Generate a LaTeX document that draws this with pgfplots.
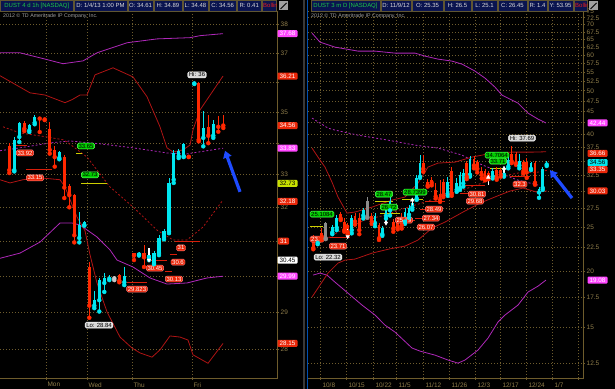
\documentclass[border=0pt]{standalone}
\usepackage{fontspec}
\setmainfont{Liberation Sans}
\usepackage{pgfplots}
\usepackage{pgfplotstable}
\pgfplotsset{compat=1.18}
\usetikzlibrary{arrows.meta}

\definecolor{cyanc}{RGB}{0,230,240}
\definecolor{redc}{RGB}{255,40,0}
\definecolor{grayc}{RGB}{140,140,140}
\definecolor{dojic}{RGB}{200,200,200}
\definecolor{bbred}{RGB}{175,20,20}
\definecolor{bbpur}{RGB}{175,40,185}
\definecolor{gridc}{RGB}{110,92,45}
\definecolor{tickc}{RGB}{145,127,75}
\definecolor{axc}{RGB}{110,92,44}
\definecolor{boxred}{RGB}{235,40,10}
\definecolor{boxgreen}{RGB}{0,205,0}
\definecolor{boxgray}{RGB}{215,215,215}
\definecolor{boxmag}{RGB}{255,70,255}
\definecolor{boxyel}{RGB}{200,225,0}
\definecolor{boxcyan}{RGB}{0,230,235}
\definecolor{lvlyel}{RGB}{205,205,0}
\definecolor{lvlred}{RGB}{215,30,10}
\definecolor{hdrbg}{RGB}{10,20,80}
\definecolor{hdrln}{RGB}{95,85,50}
\definecolor{hdrgreen}{RGB}{30,200,70}
\definecolor{hdrred}{RGB}{230,30,30}
\definecolor{arrowblue}{RGB}{30,75,255}

\pgfplotstableread{
x o h l c
14.3 33.14 34.20 33.10 34.10
19.3 34.19 34.68 34.03 34.65
29.3 34.40 34.62 34.35 34.58
34.7 34.65 34.90 34.60 34.84
59.3 33.52 33.75 33.48 33.70
79.3 31.09 31.87 30.96 31.47
84.3 31.47 31.60 31.45 31.56
94.3 29.17 29.57 29.10 29.32
99.3 29.32 29.94 29.01 29.88
104.3 29.80 30.08 29.55 29.94
109.3 29.92 30.02 29.88 29.97
124.3 29.82 30.25 29.74 30.00
139.0 30.61 30.68 30.58 30.66
149.0 30.53 30.65 30.45 30.60
154.0 30.36 30.70 30.33 30.65
159.0 30.65 31.17 30.59 31.09
164.0 31.09 31.35 31.05 31.28
169.0 31.28 32.90 31.23 32.74
173.7 32.84 33.78 32.74 33.69
178.7 33.58 33.80 33.52 33.75
183.7 33.58 34.00 33.55 33.97
194.3 35.96 36.00 35.94 36.00
203.3 34.16 35.03 33.89 34.48
213.3 34.23 34.75 34.16 34.61
}\candLup
\pgfplotstableread{
x o h l c
9.3 33.90 33.99 33.05 33.14
24.3 34.64 34.70 34.38 34.45
39.7 34.83 34.85 34.35 34.79
44.7 34.80 34.82 34.74 34.76
49.7 34.45 34.69 33.66 33.78
54.7 33.78 33.90 33.25 33.55
64.3 33.56 33.61 32.28 32.60
69.3 32.65 32.72 32.00 32.37
74.3 32.37 32.40 30.96 31.17
89.3 30.25 30.38 28.84 29.17
119.3 30.02 30.05 29.82 29.86
134.0 30.64 30.66 30.45 30.58
144.0 30.65 30.88 30.25 30.53
188.7 33.60 33.62 33.55 33.56
198.7 35.98 36.00 34.05 34.10
208.3 34.52 34.91 33.99 34.23
218.3 34.56 34.88 34.36 34.52
223.3 34.61 34.89 34.48 34.56
}\candLdown
\pgfplotstableread{
x o h l c
114.3 29.93 30.00 29.88 29.96
}\candLdoji
\pgfplotstableread{
x tip tail
149.0 30.45 30.80
}\sigLdown

\pgfplotstableread{
x o h l c
317.7 23.05 23.90 22.90 23.63
332.3 24.30 25.20 24.10 24.95
336.7 24.90 26.55 24.60 26.20
351.7 24.60 26.60 24.20 26.20
363.3 26.50 27.50 26.10 27.20
375.0 25.50 26.90 25.10 26.50
382.3 24.10 25.10 23.90 24.85
386.0 26.45 27.60 26.10 27.25
390.0 27.20 29.20 26.50 28.50
405.0 25.70 27.60 25.40 27.00
409.0 26.60 27.90 26.20 27.50
412.3 27.60 28.60 27.30 28.30
416.7 28.90 32.55 28.70 32.10
420.0 32.30 36.00 32.10 34.70
447.7 29.60 32.30 29.30 31.40
456.7 30.20 32.00 29.90 31.20
460.0 30.50 33.10 30.20 32.60
463.3 31.20 33.60 30.70 32.90
470.0 32.60 35.90 32.30 35.40
492.7 32.30 33.70 32.00 33.20
504.0 32.60 34.00 32.30 33.70
508.3 34.00 35.70 33.70 35.10
519.3 34.20 36.20 33.70 35.00
531.0 33.60 34.80 33.40 34.60
539.0 29.80 30.70 29.00 30.30
542.7 30.50 34.00 30.20 33.60
546.7 34.35 34.90 34.10 34.56
}\candRup
\pgfplotstableread{
x o h l c
313.3 23.80 24.00 22.32 22.45
321.7 24.30 24.90 23.40 23.80
340.7 26.70 27.00 25.90 26.10
344.3 25.70 26.20 24.40 24.60
347.7 25.20 25.50 24.10 24.35
355.0 26.40 26.90 25.30 25.70
359.3 26.10 26.80 24.10 24.60
371.7 26.50 26.90 25.40 25.70
379.0 25.20 25.50 23.40 23.60
393.3 25.70 26.00 24.40 24.80
397.7 26.00 26.30 24.70 25.00
401.7 26.20 26.80 24.80 25.20
423.3 34.70 36.00 33.10 33.60
427.7 31.40 31.90 30.70 30.90
431.7 31.70 32.20 30.90 31.30
435.7 30.20 31.30 28.90 29.20
440.0 29.60 31.70 28.40 28.70
443.3 31.40 31.90 29.10 29.40
451.7 33.20 34.00 29.30 29.60
466.7 34.60 35.00 31.90 32.30
474.0 35.40 35.90 33.70 34.20
477.3 34.80 35.20 33.00 33.60
481.7 33.20 33.90 32.00 32.60
485.0 33.20 33.60 31.70 32.10
488.3 32.90 33.20 31.90 32.30
496.7 33.40 33.90 31.80 32.10
500.7 33.40 33.80 32.30 32.60
511.7 36.30 37.69 34.60 34.90
516.0 36.30 36.70 34.30 34.60
523.3 34.80 35.20 32.80 33.20
526.7 34.80 35.60 32.10 33.00
535.0 34.60 34.90 31.00 31.30
}\candRdown
\pgfplotstableread{
x o h l c
325.7 23.60 25.70 23.50 25.55
367.3 26.30 29.10 26.20 28.60
}\candRgray
\pgfplotstableread{
x tip tail
347.7 23.80 24.70
386.0 25.50 26.50
}\sigRdown
\pgfplotstableread{
x tip tail
412.3 28.67 27.50
488.3 32.20 30.90
504.0 33.70 32.00
}\sigRup

\tikzset{
  bb/.style={bbred, line width=0.8bp},
  bbd/.style={bbred, line width=0.8bp, dash pattern=on 2bp off 2bp},
  pu/.style={bbpur, line width=0.8bp},
  pud/.style={bbpur, line width=0.8bp, dash pattern=on 2bp off 2bp},
  lvr/.style={lvlred, line width=1bp},
  lvy/.style={lvlyel, line width=1bp},
  lb/.style={rounded corners=1.5bp, inner xsep=1.2bp, inner ysep=0.9bp,
    font=\fontsize{6}{6.5}\selectfont, line width=0.4bp},
  lred/.style={lb, fill=boxred, draw=red!50!white, text=white},
  lgreen/.style={lb, fill=boxgreen, draw=green!60!white, text=black},
  lgray/.style={lb, fill=boxgray, draw=white, text=black},
  pb/.style={rounded corners=1bp, inner sep=0pt, minimum height=7bp,
    minimum width=20bp, font=\fontsize{6.3}{7}\selectfont, line width=0.4bp},
  hb/.style={draw=hdrln, fill=hdrbg, line width=0.5bp},
  ht/.style={font=\fontsize{6}{7}\selectfont, text=white!85!black, inner sep=0pt},
  barrow/.style={arrowblue, line width=3.2bp, -{Triangle[length=7bp, width=8.5bp]}},
}

\begin{document}
\begin{tikzpicture}
\useasboundingbox (0bp,0bp) rectangle (615bp,389bp);
\fill[black] (0bp,0bp) rectangle (615bp,389bp);

% ================= LEFT PANEL =================
\begin{axis}[
  at={(0bp,11bp)}, anchor=south west, scale only axis, width=277bp, height=367bp,
  xmin=0, xmax=277, ymode=log, ymin=27.25, ymax=38.50,
  clip=false, axis line style={draw=none},
  yticklabel pos=right, ytick pos=right, xtick pos=bottom,
  yminorticks=false, xminorticks=false,
  tick align=outside, major tick length=2bp,
  tick style={axc, line width=0.6bp},
  xmajorgrids, ymajorgrids,
  grid style={gridc, line width=0.6bp, dash pattern=on 0.8bp off 2.2bp},
  tick label style={font=\fontsize{6.5}{7}\selectfont, text=tickc},
  xticklabel style={anchor=north west, xshift=-2bp, yshift=1bp},
  yticklabel style={anchor=west, inner sep=0.8bp, xshift=0.7bp},
  xtick={46,87,132,192}, xticklabels={Mon,Wed,Thu,Fri},
  ytick={28,29,30,31,32,33,34,35,36,37,38},
  yticklabels={28,29,{},{},32,33,{},35,{},37,38},
]
\addplot[pu] coordinates {(0,37.01) (20,37.01) (40,36.84) (63,36.63) (83,36.73) (97,37.01) (127,37.36) (157,37.50) (190,37.54) (200,37.61) (223,37.68)};
\addplot[pu] coordinates {(0,30.50) (20,30.65) (40,30.97) (60,31.53) (72,31.53) (80,31.47) (97,31.12) (110,30.74) (117,30.45) (133,30.25) (150,29.94) (167,29.77) (187,29.80) (207,29.94) (223,29.99)};
\addplot[pud] coordinates {(0,33.75) (20,33.84) (50,34.00) (70,34.06) (100,33.97) (133,33.84) (167,33.68) (187,33.65) (207,33.75) (223,33.83)};
\addplot[bb] coordinates {(0,36.22) (30,35.64) (45,35.57) (65,35.31) (72,35.41) (80,35.57) (87,35.57) (95,36.25) (113,36.49) (133,36.18) (147,35.51) (160,34.52) (167,33.84) (173,33.71) (183,33.78) (190,33.93) (193,34.42) (200,35.07) (223,36.21)};
\addplot[bb] coordinates {(0,32.84) (10,32.74) (23,32.84) (40,32.90) (60,32.84) (65,32.62) (77,31.71) (85,31.30) (90,30.60) (97,29.80) (107,29.00) (120,28.32) (132,28.03) (140,27.90) (152,27.79) (160,27.98) (170,28.35) (180,28.32) (188,28.24) (193,27.85) (208,27.63) (223,28.15)};
\addplot[bbd] coordinates {(3,34.52) (20,34.32) (47,34.19) (63,34.10) (67,34.03) (87,33.55) (110,32.62) (133,32.01) (157,31.32) (173,31.03) (187,31.03) (203,31.41) (222,32.18)};
\addplot[lvr] coordinates {(15,33.92) (27,33.92)};
\addplot[lvr] coordinates {(26,33.15) (52,33.15)};
\addplot[lvy] coordinates {(76,33.65) (82,33.65)};
\addplot[lvy] coordinates {(81,32.73) (107,32.73)};
\addplot[lvr] coordinates {(175,31) (200,31)};
\addplot[lvr] coordinates {(170,30.6) (177,30.6)};
\addplot[lvr] coordinates {(148,30.45) (167,30.45)};
\addplot[lvr] coordinates {(165,30.13) (172,30.13)};
\addplot[lvr] coordinates {(127,29.823) (147,29.823)};
\addplot[only marks, mark=none, cyanc, error bars/.cd, y dir=plus, y explicit, error mark=none, error bar style={line width=0.8bp, cyanc}] table[x=x, y=l, y error plus expr=\thisrow{h}-\thisrow{l}] {\candLup};
\addplot[only marks, mark=none, redc, error bars/.cd, y dir=plus, y explicit, error mark=none, error bar style={line width=0.8bp, redc}] table[x=x, y=l, y error plus expr=\thisrow{h}-\thisrow{l}] {\candLdown};
\addplot[only marks, mark=none, dojic, error bars/.cd, y dir=plus, y explicit, error mark=none, error bar style={line width=0.8bp, dojic}] table[x=x, y=l, y error plus expr=\thisrow{h}-\thisrow{l}] {\candLdoji};
\addplot[only marks, mark=none, cyanc, error bars/.cd, y dir=plus, y explicit, error mark=none, error bar style={line width=3.2bp, cyanc}] table[x=x, y=o, y error plus expr=\thisrow{c}-\thisrow{o}] {\candLup};
\addplot[only marks, mark=none, redc, error bars/.cd, y dir=plus, y explicit, error mark=none, error bar style={line width=3.2bp, redc}] table[x=x, y=c, y error plus expr=\thisrow{o}-\thisrow{c}] {\candLdown};
\addplot[only marks, mark=none, dojic, error bars/.cd, y dir=plus, y explicit, error mark=none, error bar style={line width=3.2bp, dojic}] table[x=x, y=o, y error plus expr=\thisrow{c}-\thisrow{o}] {\candLdoji};
\addplot[only marks, mark=triangle*, mark size=2.1bp, white, mark options={rotate=180, fill=white, draw=white}, error bars/.cd, y dir=plus, y explicit, error mark=none, error bar style={line width=1.2bp, white}] table[x=x, y=tip, y error plus expr=\thisrow{tail}-\thisrow{tip}] {\sigLdown};
\node[lred] at (axis cs:25,33.68) {33.92};
\node[lred] at (axis cs:35,32.90) {33.15};
\node[lgreen] at (axis cs:86,33.90) {33.65};
\node[lgreen] at (axis cs:90,32.99) {32.73};
\node[lred] at (axis cs:181,30.80) {31};
\node[lred] at (axis cs:178,30.39) {30.6};
\node[lred] at (axis cs:155,30.22) {30.45};
\node[lred] at (axis cs:174,29.91) {30.13};
\node[lred] at (axis cs:137,29.63) {29.823};
\node[lgray] at (axis cs:197,36.25) {Hi: 36};
\node[lgray] at (axis cs:99,28.64) {Lo: 28.84};
\draw[barrow] (axis cs:240,32.47) -- (axis cs:225,33.75);
\draw[axc, line width=0.8bp] (rel axis cs:0,0) -- (rel axis cs:1,0) -- (rel axis cs:1,1);
\node[pb, fill=boxmag, text=white] at (axis cs:287.5,37.68) {37.68};
\node[pb, fill=boxred, text=white] at (axis cs:287.5,36.21) {36.21};
\node[pb, fill=boxred, text=white] at (axis cs:287.5,34.56) {34.56};
\node[pb, fill=boxmag, text=white] at (axis cs:287.5,33.83) {33.83};
\node[pb, fill=boxyel, text=black] at (axis cs:287.5,32.73) {32.73};
\node[pb, fill=boxred, text=white] at (axis cs:287.5,32.18) {32.18};
\node[pb, fill=boxred, text=white, minimum width=11bp] at (axis cs:283.5,31) {31};
\node[pb, fill=white, text=black] at (axis cs:287.5,30.45) {30.45};
\node[pb, fill=boxmag, text=white] at (axis cs:287.5,29.99) {29.99};
\node[pb, fill=boxred, text=white] at (axis cs:287.5,28.15) {28.15};
\end{axis}

% ================= RIGHT PANEL =================
\begin{axis}[
  at={(308bp,11bp)}, anchor=south west, scale only axis, width=275bp, height=367bp,
  xmin=308, xmax=583, ymode=log, ymin=11.59, ymax=75.05,
  clip=false, axis line style={draw=none},
  yticklabel pos=right, ytick pos=right, xtick pos=bottom,
  yminorticks=false, xminorticks=false,
  tick align=outside, major tick length=2bp,
  tick style={axc, line width=0.6bp},
  xmajorgrids, ymajorgrids,
  grid style={gridc, line width=0.6bp, dash pattern=on 0.8bp off 2.2bp},
  tick label style={font=\fontsize{6.5}{7}\selectfont, text=tickc},
  xticklabel style={anchor=north west, xshift=-1bp, yshift=1bp},
  yticklabel style={anchor=west, inner sep=0.8bp, xshift=0.7bp},
  xtick={320,346,373,396,423,449,475,500,526,552,578},
  xticklabels={10/8,10/15,10/22,11/5,11/12,11/26,12/3,12/17,12/24,1/7,{}},
  ytick={12.5,15,17.5,20,22.5,25,27.5,30,32.5,35,37.5,40,42.5,45,47.5,50,52.5,55,57.5,60,62.5,65,67.5,70,72.5,75},
  yticklabels={12.5,15,17.5,20,22.5,25,27.5,{},32.5,{},37.5,40,{},45,47.5,50,52.5,55,57.5,60,62.5,65,67.5,70,72.5,75},
]
\addplot[pu] coordinates {(312,67.06) (320,64.05) (335,62.44) (358,61.19) (375,61.19) (395,60.57) (415,60.57) (425,59.65) (438,58.75) (452,58.15) (462,57.27) (475,55.27) (485,53.33) (495,50.94) (502,48.91) (512,47.68) (518,46.96) (528,44.63) (538,43.29) (546,42.44)};
\addplot[pu] coordinates {(313,19.57) (320,19.77) (327,19.57) (335,18.88) (348,17.85) (362,16.80) (375,15.97) (385,15.17) (395,14.64) (412,13.50) (420,13.29) (435,13.02) (448,12.70) (458,12.50) (465,12.70) (478,13.36) (488,14.20) (498,15.41) (505,15.97) (518,16.80) (528,17.95) (538,18.50) (546,19.08)};
\addplot[pud] coordinates {(312,43.51) (328,41.35) (335,40.93) (358,39.90) (388,38.90) (415,37.92) (438,37.35) (462,36.04) (478,34.60) (495,33.39) (505,32.55) (518,31.73) (538,30.94)};
\addplot[bb] coordinates {(312,37.35) (320,35.14) (325,33.91) (332,31.40) (338,29.11) (347,26.83) (355,26.97) (372,27.66) (392,28.67) (405,29.11) (418,31.25) (428,33.91) (438,34.60) (455,34.78) (472,35.68) (492,36.40) (512,36.59) (532,36.59) (546,36.66)};
\addplot[bb] coordinates {(312,17.50) (320,18.60) (328,19.77) (338,20.80) (345,21.12) (355,21.23) (372,21.88) (390,22.37) (405,22.68) (418,23.39) (432,24.86) (445,25.63) (463,26.97) (480,28.23) (497,29.25) (510,30.01) (523,30.47) (537,29.85) (547,30.03)};
\addplot[bbd] coordinates {(325,23.39) (338,24.36) (365,25.89) (385,26.56) (405,27.52) (425,28.38) (445,29.40) (462,30.16) (482,31.25) (498,32.22) (518,32.89) (538,33.05) (547,33.35)};
\addplot[lvy] coordinates {(310,25.11) (323,25.11)};
\addplot[lvr] coordinates {(330,23.71) (350,23.71)};
\addplot[lvy] coordinates {(375,28.47) (393,28.47)};
\addplot[lvy] coordinates {(380,26.72) (400,26.72)};
\addplot[lvy] coordinates {(402,28.74) (423,28.74)};
\addplot[lvr] coordinates {(425,28.49) (445,28.49)};
\addplot[lvr] coordinates {(420,27.34) (440,27.34)};
\addplot[lvr] coordinates {(415,26.07) (435,26.07)};
\addplot[lvr] coordinates {(395,25.79) (415,25.79)};
\addplot[lvr] coordinates {(462,30.81) (485,30.81)};
\addplot[lvr] coordinates {(460,29.68) (480,29.68)};
\addplot[lvy] coordinates {(490,33.71) (510,33.71)};
\addplot[lvr] coordinates {(510,32.3) (530,32.3)};
\addplot[only marks, mark=none, cyanc, error bars/.cd, y dir=plus, y explicit, error mark=none, error bar style={line width=0.8bp, cyanc}] table[x=x, y=l, y error plus expr=\thisrow{h}-\thisrow{l}] {\candRup};
\addplot[only marks, mark=none, redc, error bars/.cd, y dir=plus, y explicit, error mark=none, error bar style={line width=0.8bp, redc}] table[x=x, y=l, y error plus expr=\thisrow{h}-\thisrow{l}] {\candRdown};
\addplot[only marks, mark=none, grayc, error bars/.cd, y dir=plus, y explicit, error mark=none, error bar style={line width=0.8bp, grayc}] table[x=x, y=l, y error plus expr=\thisrow{h}-\thisrow{l}] {\candRgray};
\addplot[only marks, mark=none, cyanc, error bars/.cd, y dir=plus, y explicit, error mark=none, error bar style={line width=2.6bp, cyanc}] table[x=x, y=o, y error plus expr=\thisrow{c}-\thisrow{o}] {\candRup};
\addplot[only marks, mark=none, redc, error bars/.cd, y dir=plus, y explicit, error mark=none, error bar style={line width=2.6bp, redc}] table[x=x, y=c, y error plus expr=\thisrow{o}-\thisrow{c}] {\candRdown};
\addplot[only marks, mark=none, grayc, error bars/.cd, y dir=plus, y explicit, error mark=none, error bar style={line width=2.6bp, grayc}] table[x=x, y=o, y error plus expr=\thisrow{c}-\thisrow{o}] {\candRgray};
\addplot[only marks, mark=triangle*, mark size=2.1bp, white, mark options={rotate=180, fill=white, draw=white}, error bars/.cd, y dir=plus, y explicit, error mark=none, error bar style={line width=1.2bp, white}] table[x=x, y=tip, y error plus expr=\thisrow{tail}-\thisrow{tip}] {\sigRdown};
\addplot[only marks, mark=triangle*, mark size=2.1bp, white, mark options={fill=white, draw=white}, error bars/.cd, y dir=minus, y explicit, error mark=none, error bar style={line width=1.2bp, white}] table[x=x, y=tip, y error minus expr=\thisrow{tip}-\thisrow{tail}] {\sigRup};
\node[lgreen] at (axis cs:322,26.69) {25.1084};
\node[lred] at (axis cs:317,23.50) {23.3};
\node[lred] at (axis cs:338,22.68) {23.71};
\node[lgray] at (axis cs:328,21.45) {Lo: 22.32};
\node[lgreen] at (axis cs:384,29.55) {28.47};
\node[lgreen] at (axis cs:389,27.66) {26.72};
\node[lgreen] at (axis cs:415,29.86) {28.7399};
\node[lred] at (axis cs:434,27.38) {28.49};
\node[lred] at (axis cs:431,26.15) {27.34};
\node[lred] at (axis cs:426,24.99) {26.07};
\node[lred] at (axis cs:404,25.89) {25.79};
\node[lred] at (axis cs:477,29.55) {30.81};
\node[lred] at (axis cs:475,28.52) {29.68};
\node[lgreen] at (axis cs:497,36.04) {34.7064};
\node[lgreen] at (axis cs:498,34.96) {33.71};
\node[lred] at (axis cs:520,31.09) {32.3};
\node[lgray] at (axis cs:522,39.30) {Hi: 37.69};
\draw[barrow] (axis cs:572,28.96) -- (axis cs:550,33.39);
\draw[axc, line width=0.8bp] (rel axis cs:0,0) -- (rel axis cs:1,0) -- (rel axis cs:1,1);
\node[pb, fill=boxmag, text=white] at (axis cs:597.5,42.44) {42.44};
\node[pb, fill=boxred, text=white, yshift=-1.5bp] at (axis cs:597.5,36.66) {36.66};
\node[pb, fill=boxcyan, text=black, yshift=0.6bp] at (axis cs:597.5,34.56) {34.56};
\node[pb, fill=boxred, text=white, yshift=0.8bp] at (axis cs:597.5,33.35) {33.35};
\node[pb, fill=boxred, text=white] at (axis cs:597.5,30.03) {30.03};
\node[pb, fill=boxmag, text=white] at (axis cs:597.5,19.08) {19.08};
\end{axis}

\draw[gray!45!black, line width=2bp] (303.5bp,0bp) -- (303.5bp,389bp);
\draw[blue!55!cyan!70!black, line width=1.2bp] (307.6bp,0bp) -- (307.6bp,389bp);

\draw[hb] (0.5bp,378bp) rectangle (73bp,388.5bp);
\node[ht, text=hdrgreen] at (36.8bp,383.2bp) {DUST 4 d 1h [NASDAQ]};
\draw[hb] (74bp,378bp) rectangle (127bp,388.5bp);
\node[ht] at (100.5bp,383.2bp) {D: 1/4/13 1:00 PM};
\draw[hb] (128bp,378bp) rectangle (153bp,388.5bp);
\node[ht] at (140.5bp,383.2bp) {O: 34.61};
\draw[hb] (154bp,378bp) rectangle (182bp,388.5bp);
\node[ht] at (168bp,383.2bp) {H: 34.89};
\draw[hb] (183bp,378bp) rectangle (208bp,388.5bp);
\node[ht] at (195.5bp,383.2bp) {L: 34.48};
\draw[hb] (209bp,378bp) rectangle (236.5bp,388.5bp);
\node[ht] at (222.7bp,383.2bp) {C: 34.56};
\draw[hb] (237.5bp,378bp) rectangle (261bp,388.5bp);
\node[ht] at (249.2bp,383.2bp) {R: 0.41};
\draw[hb] (262bp,378bp) rectangle (276.5bp,388.5bp);
\begin{scope}
\clip (262bp,378bp) rectangle (276.5bp,388.5bp);
\node[ht, text=hdrred, anchor=west] at (263bp,383.2bp) {Bollin...};
\end{scope}
\fill[gray!75] (279bp,378.5bp) rectangle (288bp,387.5bp);
\draw[black, line width=0.9bp] (280.5bp,380bp) -- (286.5bp,386bp);

\draw[hb] (311bp,378bp) rectangle (380bp,388.5bp);
\node[ht, text=hdrgreen] at (345.5bp,383.2bp) {DUST 3 m D [NASDAQ]};
\draw[hb] (381bp,378bp) rectangle (411bp,388.5bp);
\node[ht] at (396bp,383.2bp) {D: 11/9/12};
\draw[hb] (412bp,378bp) rectangle (443bp,388.5bp);
\node[ht] at (427.5bp,383.2bp) {O: 25.35};
\draw[hb] (444bp,378bp) rectangle (471bp,388.5bp);
\node[ht] at (457.5bp,383.2bp) {H: 26.5};
\draw[hb] (472bp,378bp) rectangle (497bp,388.5bp);
\node[ht] at (484.5bp,383.2bp) {L: 25.1};
\draw[hb] (498bp,378bp) rectangle (527bp,388.5bp);
\node[ht] at (512.5bp,383.2bp) {C: 26.45};
\draw[hb] (528bp,378bp) rectangle (547bp,388.5bp);
\node[ht] at (537.5bp,383.2bp) {R: 1.4};
\draw[hb] (548bp,378bp) rectangle (573bp,388.5bp);
\node[ht] at (560.5bp,383.2bp) {Y: 53.95};
\draw[hb] (574bp,378bp) rectangle (587bp,388.5bp);
\begin{scope}
\clip (574bp,378bp) rectangle (587bp,388.5bp);
\node[ht, text=hdrred, anchor=west] at (575bp,383.2bp) {Bolling...};
\end{scope}
\fill[gray!75] (589bp,378.5bp) rectangle (598bp,387.5bp);
\draw[black, line width=0.9bp] (590.5bp,380bp) -- (596.5bp,386bp);

\node[anchor=west, text=gray!75, font=\fontsize{5.3}{6}\selectfont, inner sep=0pt] at (3bp,373bp) {2012 \textcopyright{} TD Ameritrade IP Company, Inc.};
\node[anchor=west, text=gray!75, font=\fontsize{5.3}{6}\selectfont, inner sep=0pt] at (311bp,373bp) {2012 \textcopyright{} TD Ameritrade IP Company, Inc.};
\end{tikzpicture}
\end{document}
